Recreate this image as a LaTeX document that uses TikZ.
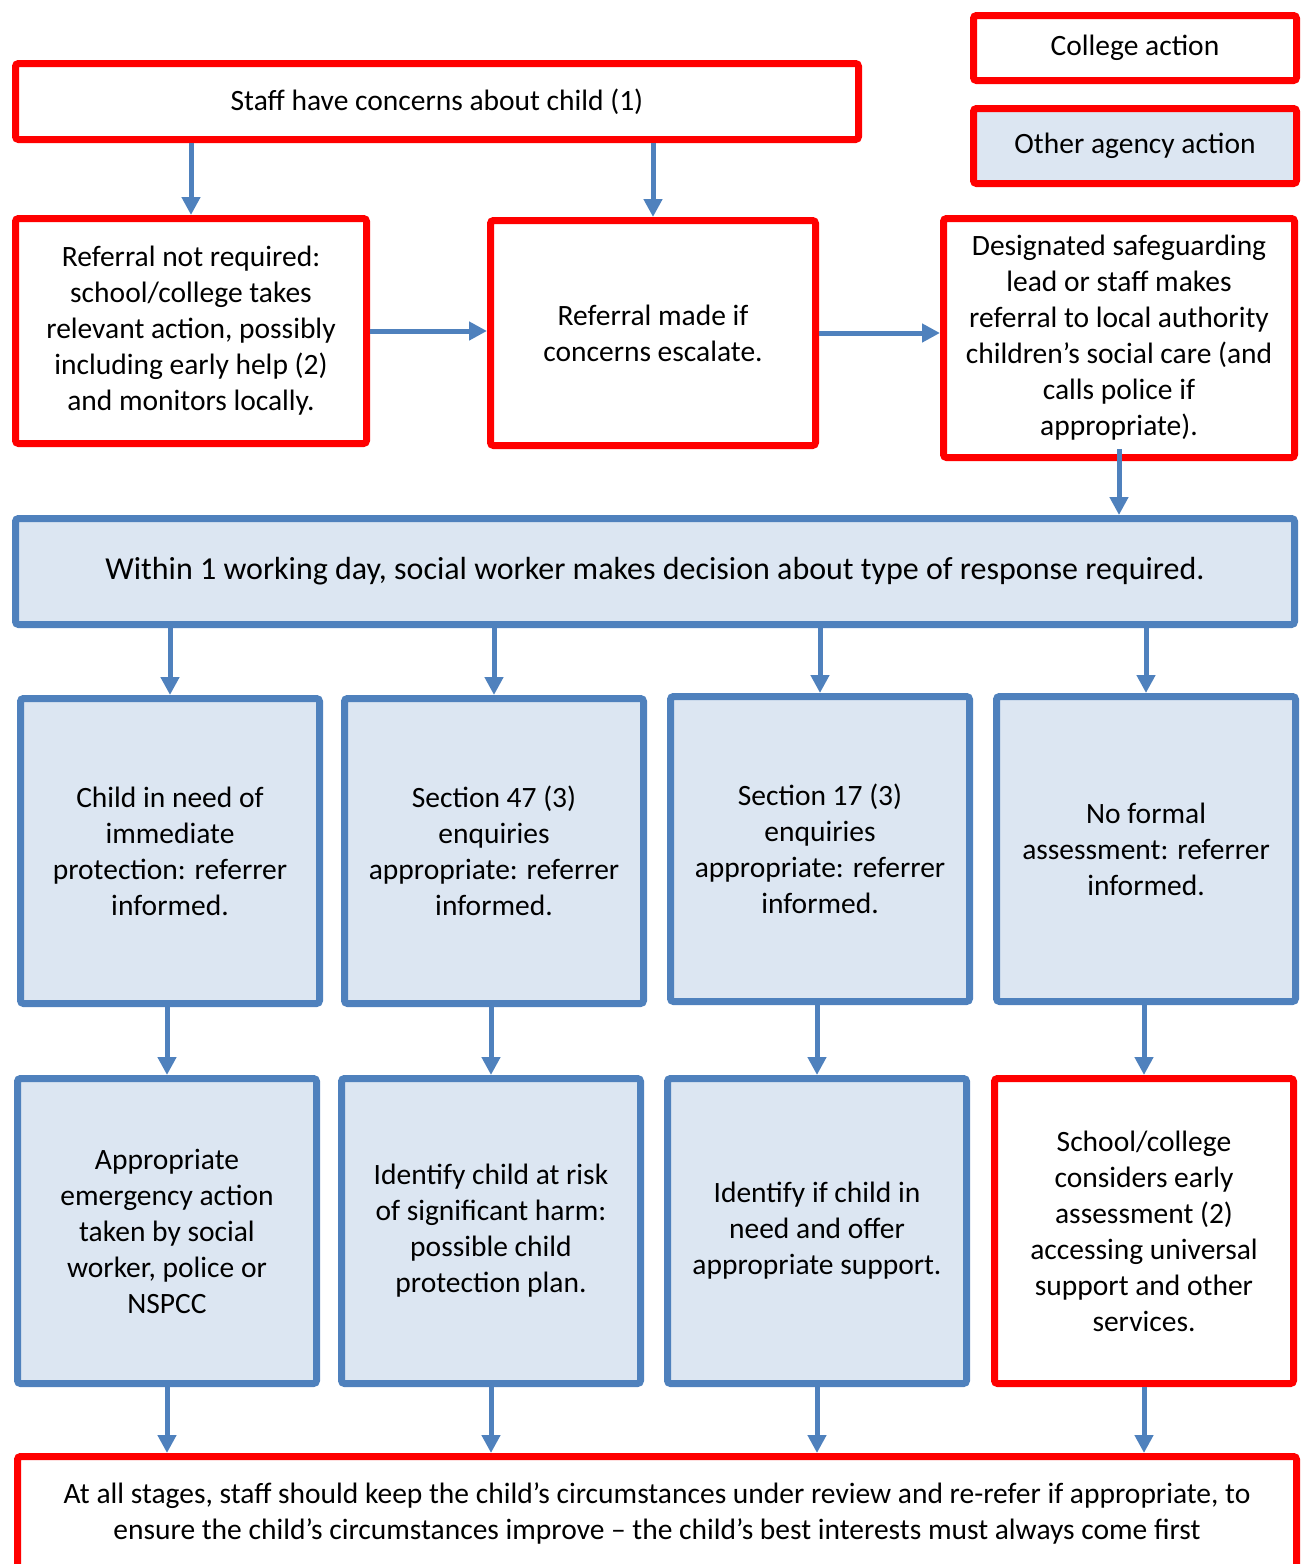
\documentclass[tikz,border=0pt]{standalone}
\usepackage{fontspec}
\setmainfont{Carlito}
\usetikzlibrary{arrows.meta}
\definecolor{ablue}{HTML}{4F81BD}
\definecolor{lblue}{HTML}{DCE6F2}
\tikzset{box/.style={rectangle,draw,line width=7pt,rounded corners=3pt,align=center,inner sep=0pt,font=\fontsize{29.5}{36}\selectfont}}
\tikzset{col/.style={box,draw=red,fill=white}}
\tikzset{agy/.style={box,draw=ablue,fill=lblue}}
\tikzset{arr/.style={draw=ablue,line width=5pt,-{Triangle[width=18pt,length=18pt]}}}

\begin{document}
\begin{tikzpicture}[x=1pt,y=-1pt]
      \useasboundingbox (0,0) rectangle (1303,1564);
      % top row
      \node[col,minimum width=843,minimum height=76] (staff) at (437,101.5) {Staff have concerns about child (1)};
      \node[col,minimum width=323,minimum height=65] (keyc) at (1135,48) {College action};
      \node[col,fill=lblue,minimum width=323,minimum height=75] (keya) at (1135,146) {Other agency action};
      \node[col,minimum width=351,minimum height=225] (nreq) at (191,331) {Referral not required:\\ school/college takes\\ relevant action, possibly\\ including early help (2)\\ and monitors locally.};
      \node[col,minimum width=325,minimum height=225] (made) at (653,333) {Referral made if\\ concerns escalate.};
      \node[col,minimum width=351,minimum height=239] (dsl) at (1119,338) {Designated safeguarding\\ lead or staff makes\\ referral to local authority\\ children’s social care (and\\ calls police if\\ appropriate).};
      \node[agy,minimum width=1279,minimum height=106,font=\fontsize{32}{36}\selectfont] (day) at (655,571.5) {Within 1 working day, social worker makes decision about type of response required.};
      % responses
      \node[agy,minimum width=299,minimum height=305] (ra) at (170,851) {Child in need of\\ immediate\\ protection: referrer\\ informed.};
      \node[agy,minimum width=299,minimum height=305] (rb) at (494,851) {Section 47 (3)\\ enquiries\\ appropriate: referrer\\ informed.};
      \node[agy,minimum width=299,minimum height=305] (rc) at (820,849) {Section 17 (3)\\ enquiries\\ appropriate: referrer\\ informed.};
      \node[agy,minimum width=299,minimum height=305] (rd) at (1146,849) {No formal\\ assessment: referrer\\ informed.};
      % outcomes
      \node[agy,minimum width=299,minimum height=305] (oa) at (167,1231) {Appropriate\\ emergency action\\ taken by social\\ worker, police or\\ NSPCC};
      \node[agy,minimum width=299,minimum height=305] (ob) at (491,1231) {Identify child at risk\\ of significant harm:\\ possible child\\ protection plan.};
      \node[agy,minimum width=299,minimum height=305] (oc) at (817,1231) {Identify if child in\\ need and offer\\ appropriate support.};
      \node[col,minimum width=299,minimum height=305] (od) at (1144,1231) {School/college\\ considers early\\ assessment (2)\\ accessing universal\\ support and other\\ services.};
      \node[col,minimum width=1279,minimum height=113] (all) at (657,1513) {At all stages, staff should keep the child’s circumstances under review and re-refer if appropriate, to\\ ensure the child’s circumstances improve – the child’s best interests must always come first};
      % connectors
      \foreach \b in {nreq,made}
        \draw[arr] (staff.south -| \b.north) -- (\b.north);
      \draw[arr] (nreq.east) -- (nreq.east -| made.west);
      \draw[arr] (made.east) -- (made.east -| dsl.west);
      \draw[arr] ([yshift=12pt]dsl.south) -- (dsl.south |- day.north);
      \foreach \b in {ra,rb,rc,rd}
        \draw[arr] (day.south -| \b.north) -- (\b.north);
      \foreach \a/\b in {ra/oa,rb/ob,rc/oc,rd/od}
        \draw[arr] (\a.south -| \b.north) -- (\b.north);
      \foreach \a in {oa,ob,oc,od}
        \draw[arr] (\a.south) -- (\a.south |- all.north);
\end{tikzpicture}
\end{document}
